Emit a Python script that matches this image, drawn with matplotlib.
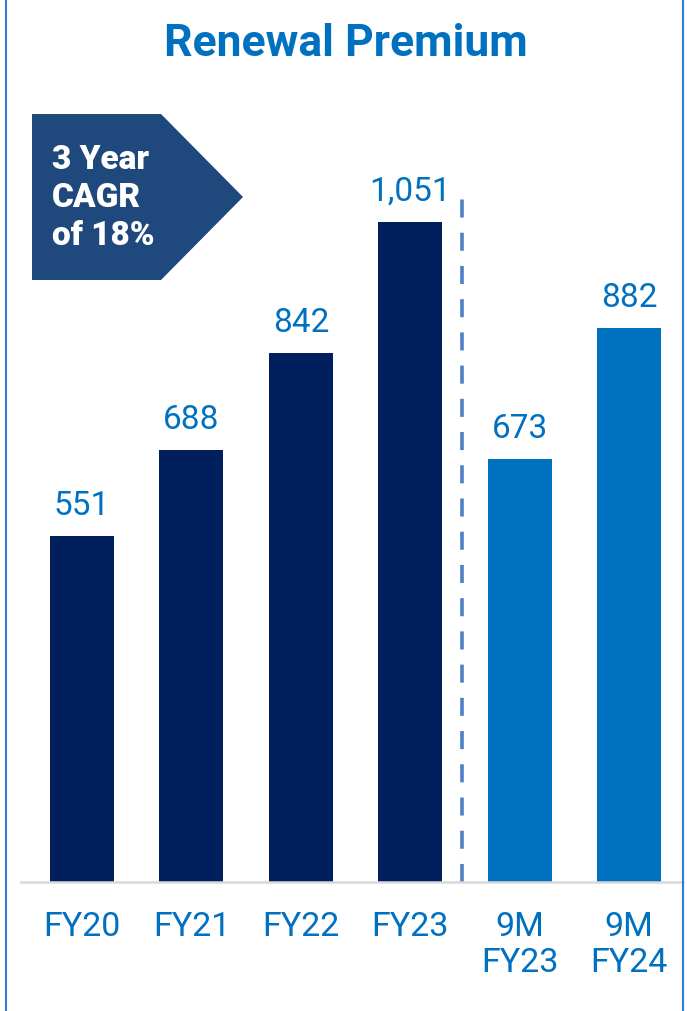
import numpy as np
import matplotlib
matplotlib.use("Agg")
import matplotlib.pyplot as plt
from matplotlib.patches import Polygon
from matplotlib.lines import Line2D

plt.rcParams['font.family'] = ['Roboto', 'DejaVu Sans']

# data
categories = ['FY20', 'FY21', 'FY22', 'FY23', '9M\nFY23', '9M\nFY24']
values = [551, 688, 842, 1051, 673, 882]
value_labels = ['551', '688', '842', '1,051', '673', '882']
bar_colors = ['#001f5c', '#001f5c', '#001f5c', '#001f5c', '#0070c0', '#0070c0']

W, H = 687, 1011
fig = plt.figure(figsize=(W / 100, H / 100), dpi=100)

# axes placed so that baseline sits at y=882px
ax = fig.add_axes([21 / W, (H - 882) / H, 662 / W, 782 / H])
x = np.arange(len(categories))
ax.bar(x, values, width=0.585, color=bar_colors)
ax.set_xlim(-0.558, 5.493)
ax.set_ylim(0, 1245)

for xi, v, lab in zip(x, values, value_labels):
    ax.annotate(lab, (xi, v), xytext=(0, 10), textcoords='offset points',
                ha='center', va='bottom', fontsize=24, color='#0070c0')

# dashed separator between full-year and 9M figures
ax.plot([3.47, 3.47], [0, 1094], ls=(0, (5, 4.2)), color='#4f7fc4', lw=2.6)

ax.set_xticks(x)
ax.set_xticklabels(categories, fontsize=24.5, color='#0070c0', linespacing=1.17)
ax.tick_params(axis='x', length=0, pad=21)
ax.set_yticks([])
for s in ['top', 'right', 'left']:
    ax.spines[s].set_visible(False)
ax.spines['bottom'].set_color('#d9d9d9')
ax.spines['bottom'].set_linewidth(1.8)

fig.text(346 / W, 1 - 44 / H, 'Renewal Premium', ha='center', va='center',
         fontsize=32, fontweight='bold', color='#0070c0')

# CAGR arrow box
pts = [(32, 114), (161, 114), (243, 197), (161, 280), (32, 280)]
poly = Polygon([(px / W, 1 - py / H) for px, py in pts], closed=True,
               transform=fig.transFigure, facecolor='#1f497d', edgecolor='none')
fig.add_artist(poly)
fig.text(52 / W, 1 - 198 / H, '3 Year\nCAGR\nof 18%', ha='left', va='center',
         fontsize=24, fontweight='black', color='white', linespacing=1.25)

# frame side lines
fig.add_artist(Line2D([6 / W, 6 / W], [0, 1], transform=fig.transFigure,
                      color='#2e7dd1', lw=1.5))
fig.add_artist(Line2D([683 / W, 683 / W], [0, 1], transform=fig.transFigure,
                      color='#2e7dd1', lw=1.5))

fig.savefig('out.png', dpi=100)
